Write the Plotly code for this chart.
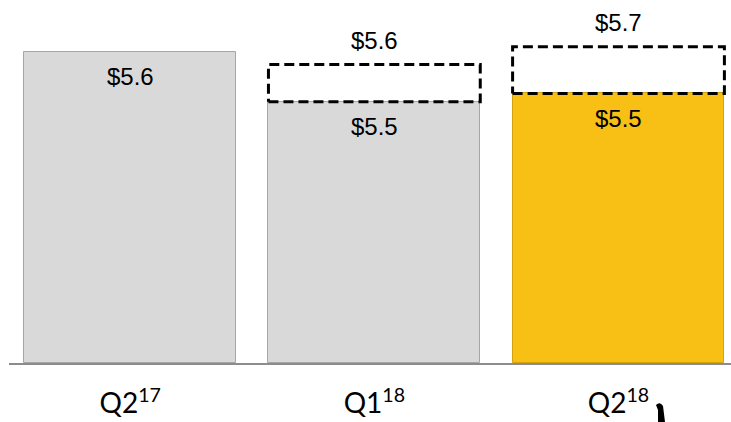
import plotly.graph_objects as go

# ---- data ----
categories = ["Q2<sup>17</sup>", "Q1<sup>18</sup>", "Q2<sup>18</sup>"]
bar_heights = [5.60, 4.70, 4.85]          # drawn height of solid bars
bar_labels = ["$5.6", "$5.5", "$5.5"]
bar_colors = ["#d9d9d9", "#d9d9d9", "#f8bf14"]
bar_edges = ["#a6a6a6", "#a6a6a6", "#d4a20c"]
dash_tops = [None, 5.37, 5.69]            # drawn top of dashed boxes
dash_labels = [None, "$5.6", "$5.7"]

W, H = 731, 422
L, B = 9, 59
plot_w, plot_h = W - L, H - B
px_per_unit = 244.15
x0 = -(130.2 - L) / px_per_unit
x1 = x0 + plot_w / px_per_unit
y_top = 6.53
bar_w = 0.8675

xs = list(range(len(categories)))

fig = go.Figure()
fig.add_trace(go.Bar(
    x=xs, y=bar_heights, width=bar_w,
    marker=dict(color=bar_colors, line=dict(color=bar_edges, width=1)),
    hoverinfo="skip", showlegend=False,
))

# dashed boxes on top of bars 2 and 3
for i, top in enumerate(dash_tops):
    if top is None:
        continue
    xl, xr = xs[i] - bar_w / 2, xs[i] + bar_w / 2
    yb = bar_heights[i]
    fig.add_trace(go.Scatter(
        x=[xl, xr, xr, xl, xl], y=[yb, yb, top, top, yb],
        mode="lines", line=dict(color="black", width=3, dash="10px,5px"),
        hoverinfo="skip", showlegend=False,
    ))

val_font = dict(family="Liberation Sans, Arial, sans-serif", size=24, color="black")
for i, h in enumerate(bar_heights):
    fig.add_annotation(x=xs[i], y=h, text=bar_labels[i], showarrow=False,
                       yanchor="middle", yshift=-25, font=val_font)
for i, top in enumerate(dash_tops):
    if top is None:
        continue
    fig.add_annotation(x=xs[i], y=top, text=dash_labels[i], showarrow=False,
                       yanchor="middle", yshift=24, font=val_font)

# small black brush mark near the last label
def P(px, py):
    return f"{(px - L) / plot_w:.5f},{(plot_h - py) / plot_h:.5f}"

fig.add_shape(type="path", xref="paper", yref="paper",
              path=f"M{P(656,405)} Q{P(660,401)} {P(663,406)} L{P(665,422)} L{P(658,422)} L{P(658,410)} Z",
              fillcolor="black", line=dict(width=0))

fig.update_layout(
    width=W, height=H,
    margin=dict(l=L, r=0, t=0, b=B, autoexpand=False),
    plot_bgcolor="white", paper_bgcolor="white",
    xaxis=dict(range=[x0, x1], tickmode="array", tickvals=xs, ticktext=categories,
               showgrid=False, zeroline=False, showline=True, linecolor="#8c8c8c",
               linewidth=1.5, ticks="outside", ticklen=15, tickcolor="rgba(0,0,0,0)",
               tickfont=dict(family="Lato, Carlito, sans-serif", size=28, color="black")),
    yaxis=dict(range=[0, y_top], visible=False, showgrid=False, zeroline=False),
    bargap=0,
)

fig.write_html("out.html", config={"displayModeBar": False},
               post_script="document.body.style.margin='0';")
